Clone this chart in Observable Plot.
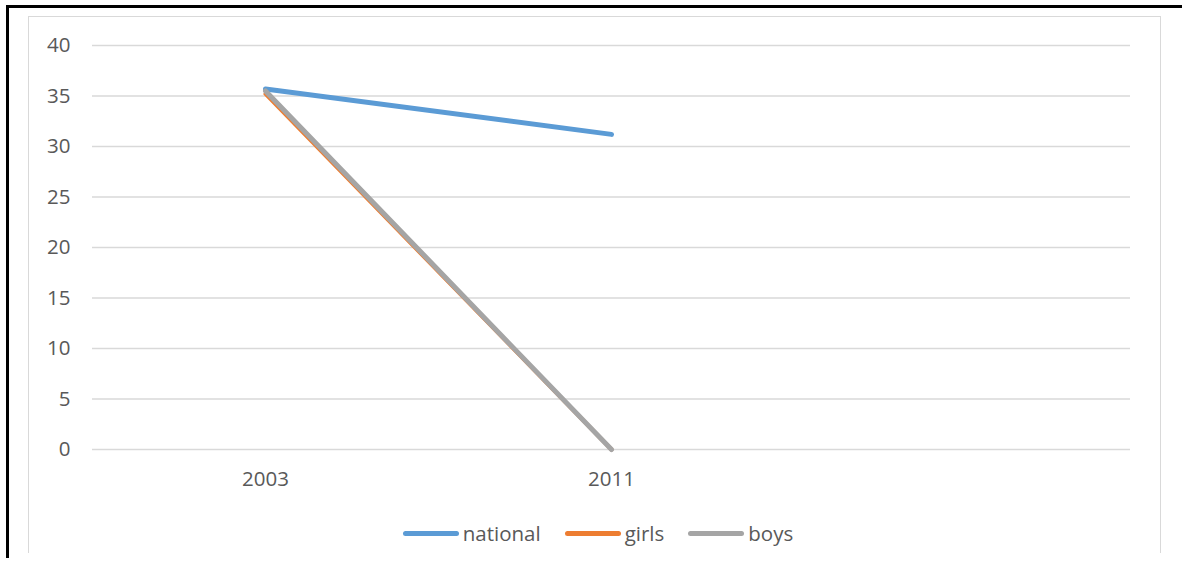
<!DOCTYPE html>
<html>
<head>
<meta charset="utf-8">
<script src="https://cdn.jsdelivr.net/npm/d3@7"></script>
<script src="https://cdn.jsdelivr.net/npm/@observablehq/plot@0.6"></script>
<style>
  html, body { margin: 0; padding: 0; background: #fff; }
  #wrap { position: relative; width: 1182px; height: 561px; overflow: hidden; font-family: "Open Sans", sans-serif; }
  #outer { position: absolute; left: 6px; top: 5px; width: 1200px; height: 553px; border-left: 3px solid #000; border-top: 3px solid #000; box-sizing: border-box; }
  #inner { position: absolute; left: 28px; top: 16px; width: 1133px; height: 537px; border-left: 1.5px solid #d9d9d9; border-top: 1.5px solid #d9d9d9; border-right: 1.5px solid #d9d9d9; box-sizing: border-box; }
  #chart { position: absolute; left: 0; top: 0; }
  #legend { position: absolute; left: 0; top: 519px; width: 1182px; display: flex; justify-content: center; gap: 24px; font-size: 20.5px; color: #595959; padding-left: 14px; box-sizing: border-box; }
  .item { display: flex; align-items: center; }
  .sw { display: inline-block; width: 56px; height: 5px; border-radius: 3px; margin-right: 4px; }
</style>
</head>
<body>
<div id="wrap">
  <div id="outer"></div>
  <div id="inner"></div>
  <div id="chart"></div>
  <div id="legend"></div>
</div>
<script>
const years = ["2003", "2011", ""];
const seriesNames = ["national", "girls", "boys"];
const seriesColors = ["#5b9bd5", "#ed7d31", "#a5a5a5"];
const seriesWidths = [5, 4, 5];
const national = [35.7, 31.2];
const girls = [35.2, 0];
const boys = [35.5, 0];
const yTicks = [0, 5, 10, 15, 20, 25, 30, 35, 40];

const valuesBySeries = [national, girls, boys];
const data = [];
seriesNames.forEach((s, i) => {
  valuesBySeries[i].forEach((v, j) => data.push({series: s, year: years[j], value: v}));
});

const marks = [
  Plot.ruleY(yTicks, {stroke: "#d9d9d9", strokeWidth: 1.5}),
  Plot.axisY({ticks: yTicks, tickSize: 0, tickPadding: 22, fontSize: 20.5, fill: "#595959", label: null}),
  Plot.axisX({tickSize: 0, tickPadding: 22, fontSize: 20.5, fill: "#595959", label: null})
];
seriesNames.forEach((s, i) => {
  marks.push(Plot.line(data.filter(d => d.series === s), {
    x: "year", y: "value", stroke: seriesColors[i], strokeWidth: seriesWidths[i],
    strokeLinecap: "round", strokeLinejoin: "round"
  }));
});

const chart = Plot.plot({
  width: 1182,
  height: 500,
  marginLeft: 92,
  marginRight: 52,
  marginTop: 45,
  marginBottom: 51,
  style: {background: "transparent", fontFamily: "Open Sans, sans-serif", color: "#595959"},
  x: {type: "point", domain: years, padding: 0.5, align: 0.5},
  y: {domain: [0, 40]},
  marks
});
document.getElementById("chart").appendChild(chart);

const legend = document.getElementById("legend");
seriesNames.forEach((s, i) => {
  const item = document.createElement("div");
  item.className = "item";
  const sw = document.createElement("span");
  sw.className = "sw";
  sw.style.background = seriesColors[i];
  item.appendChild(sw);
  const t = document.createElement("span");
  t.textContent = s;
  item.appendChild(t);
  legend.appendChild(item);
});
</script>
</body>
</html>
